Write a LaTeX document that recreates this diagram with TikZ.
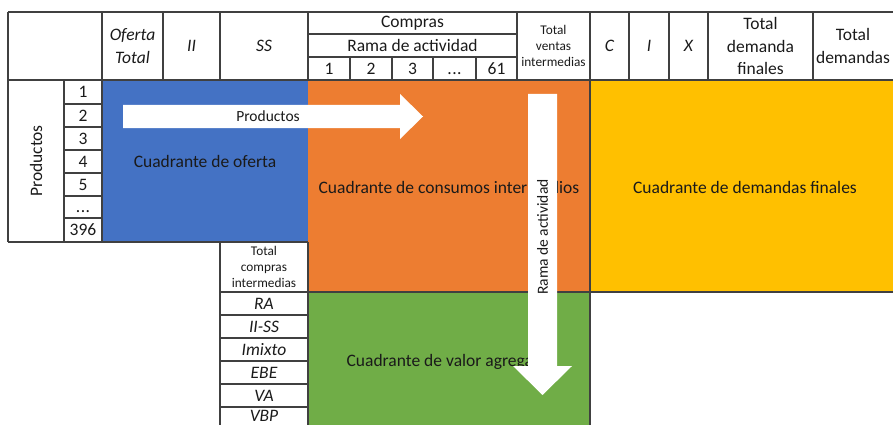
\documentclass[tikz,border=0pt]{standalone}
\usepackage{fontspec}
\setmainfont{Carlito}
\definecolor{linec}{HTML}{404040}
\definecolor{textc}{HTML}{1A1A1A}
\definecolor{blueq}{HTML}{4472C4}
\definecolor{orangeq}{HTML}{ED7D31}
\definecolor{yellowq}{HTML}{FFC000}
\definecolor{greenq}{HTML}{70AD47}
\begin{document}
\begin{tikzpicture}[x=1pt,y=-1pt,
  gridline/.style={draw=linec, line width=1.4pt},
  txt/.style={font=\fontsize{17.5}{22.5}\selectfont, text=textc, inner sep=0pt, align=center},
  itxt/.style={txt, font=\fontsize{17.5}{22.5}\selectfont\itshape},
  stxt/.style={txt, font=\fontsize{13.3}{16}\selectfont},
  atxt/.style={txt, font=\fontsize{15.5}{18}\selectfont},
  arrowshape/.style={fill=white, draw=none}]
\useasboundingbox (0,0) rectangle (893,425);
% quadrant fills
\fill[blueq] (102,80) rectangle (308,242);
\fill[orangeq] (308,80) rectangle (590,292);
\fill[yellowq] (590,80) rectangle (893,292);
\fill[greenq] (308,292) rectangle (590,425);
% header grid
\draw[gridline] (8,12) -- (893,12);
\draw[gridline] (8,80) -- (893,80);
\draw[gridline] (308,34) -- (517,34);
\draw[gridline] (308,57) -- (517,57);
\foreach \x in {102,163,220,308,517,629,669,708,813} \draw[gridline] (\x,12) -- (\x,80);
\foreach \x in {350,392,433,476} \draw[gridline] (\x,57) -- (\x,80);
\draw[gridline] (590,12) -- (590,425);
\draw[gridline] (8,12) -- (8,242);
% left block
\draw[gridline] (64,80) -- (64,242);
\draw[gridline] (102,80) -- (102,242);
\foreach \y in {104,127,150,173,196,218} \draw[gridline] (64,\y) -- (102,\y);
\draw[gridline] (8,242) -- (308,242);
% bottom block
\draw[gridline] (220,242) -- (220,425);
\draw[gridline] (308,242) -- (308,425);
\draw[gridline] (220,292) -- (893,292);
\foreach \y in {315,338,361,384,407} \draw[gridline] (220,\y) -- (308,\y);
% header texts
\node[itxt] (ot) at (132.5,46) {Oferta\\Total};
\node[itxt] (ii) at (191.5,46) {II};
\node[itxt] (ss) at (264,46) {SS};
\node[txt] (compras) at (412.5,23) {Compras};
\node[txt] (rama) at (412.5,45.5) {Rama de actividad};
\node[txt] (c1) at (329,68.5) {1};
\node[txt] (c2) at (371,68.5) {2};
\node[txt] (c3) at (412.5,68.5) {3};
\node[txt] (c4) at (454.5,68.5) {\vphantom{1}.\kern0.5pt.\kern0.5pt.};
\node[txt] (c61) at (496.5,68.5) {61};
\node[stxt] (tvi) at (553.5,46) {Total\\ventas\\intermedias};
\node[itxt] (cc) at (609.5,46) {C};
\node[itxt] (ci) at (649,46) {I};
\node[itxt] (cx) at (688.5,46) {X};
\node[txt] (tdf) at (760.5,46) {Total\\demanda\\finales};
\node[txt] (td) at (853,46) {Total\\demandas};
% left texts
\node[txt, rotate=90] (prod) at (36,161) {Productos};
\node[txt] (r1) at (83,92) {1};
\node[txt] (r2) at (83,115.5) {2};
\node[txt] (r3) at (83,138.5) {3};
\node[txt] (r4) at (83,161.5) {4};
\node[txt] (r5) at (83,184.5) {5};
\node[txt] (r6) at (83,207) {\vphantom{1}.\kern0.5pt.\kern0.5pt.};
\node[txt] (r396) at (83,230) {396};
% bottom texts
\node[stxt] (tci) at (264,267) {Total\\compras\\intermedias};
\node[itxt] (ra) at (264,303.5) {RA};
\node[itxt] (iiss) at (264,326.5) {II-SS};
\node[itxt] (imixto) at (264,349.5) {Imixto};
\node[itxt] (ebe) at (264,372.5) {EBE};
\node[itxt] (va) at (264,395.5) {VA};
\node[itxt] (vbp) at (264,416) {VBP};
% quadrant texts
\node[txt] (qo) at (205,161) {Cuadrante de oferta};
\node[txt] (qci) at (449,187) {Cuadrante de consumos intermedios};
\node[txt] (qdf) at (745,187) {Cuadrante de demandas finales};
\node[txt] (qva) at (449,362) {Cuadrante de valor agregado};
% arrows
\fill[arrowshape] (123,105) -- (400,105) -- (400,94) -- (423,116.5) -- (400,139) -- (400,128) -- (123,128) -- cycle;
\node[atxt] (aprod) at (268,116) {Productos};
\fill[arrowshape] (528,94) -- (557,94) -- (557,366) -- (572,366) -- (542.5,395) -- (513,366) -- (528,366) -- cycle;
\node[atxt, rotate=90] (arama) at (542.5,237) {Rama de actividad};
\end{tikzpicture}
\end{document}
